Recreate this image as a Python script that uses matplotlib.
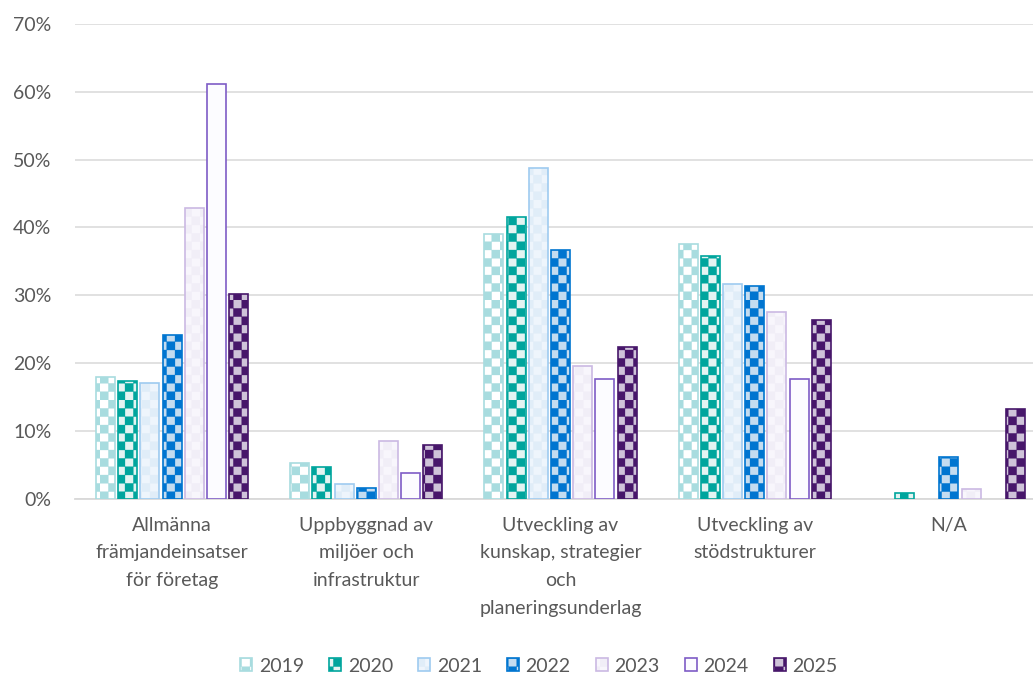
import numpy as np
import matplotlib
matplotlib.use("Agg")
import matplotlib.pyplot as plt
import matplotlib.hatch as mhatch
from matplotlib.path import Path

plt.rcParams['font.family'] = ['Lato', 'DejaVu Sans']
plt.rcParams['hatch.linewidth'] = 0.2

# categories and values (share of projects per year)
categories = ["Allmänna\nfrämjandeinsatser\nför företag",
              "Uppbyggnad av\nmiljöer och\ninfrastruktur",
              "Utveckling av\nkunskap, strategier\noch\nplaneringsunderlag",
              "Utveckling av\nstödstrukturer",
              "N/A"]
years = ["2019", "2020", "2021", "2022", "2023", "2024", "2025"]
v2019 = [0.179, 0.052, 0.390, 0.376, np.nan]
v2020 = [0.173, 0.046, 0.415, 0.358, 0.008]
v2021 = [0.170, 0.022, 0.488, 0.316, np.nan]
v2022 = [0.241, 0.016, 0.367, 0.313, 0.061]
v2023 = [0.429, 0.085, 0.196, 0.275, 0.014]
v2024 = [0.612, 0.037, 0.176, 0.176, np.nan]
v2025 = [0.302, 0.079, 0.223, 0.264, 0.132]
series = [v2019, v2020, v2021, v2022, v2023, v2024, v2025]

# (face, hatch colour, edge colour, hatch)
styles = [
    ("#FFFFFF", "#A8DCDF", "#A8DCDF", "c"),
    ("#E4F4F2", "#00A59D", "#00A59D", "c"),
    ("#EEF5FC", "#E0EDF8", "#9ECBF0", "c"),
    ("#C4DCF0", "#0075D0", "#0075D0", "c"),
    ("#F8F6FC", "#F1EEF7", "#CBB9E3", "c"),
    ("#FCFCFF", "#FCFCFF", "#7E5CC6", None),
    ("#CFC3D9", "#47166A", "#47166A", "c"),
]


class CheckerHatch(mhatch.HatchPatternBase):
    # checkerboard fill, 'c' in the hatch string
    filled = True

    def __init__(self, hatch, density):
        self.cells = 12 if 'c' in hatch else 0
        self.num_vertices = (self.cells * self.cells // 2) * 5

    def set_vertices_and_codes(self, vertices, codes):
        s = 1.0 / self.cells
        k = 0
        for i in range(self.cells):
            for j in range(self.cells):
                if (i + j) % 2:
                    continue
                vertices[k:k + 5] = [[i * s, j * s], [(i + 1) * s, j * s],
                                     [(i + 1) * s, (j + 1) * s], [i * s, (j + 1) * s],
                                     [i * s, j * s]]
                codes[k:k + 5] = [Path.MOVETO, Path.LINETO, Path.LINETO,
                                  Path.LINETO, Path.CLOSEPOLY]
                k += 5


mhatch._hatch_types.append(CheckerHatch)
import warnings
warnings.filterwarnings("ignore")

fig = plt.figure(figsize=(10.33, 6.77), dpi=100)
ax = fig.add_axes([75 / 1033, 178.5 / 677, 971 / 1033, 474.5 / 677])

x = np.arange(len(categories))
step = 0.8 / len(years)
handles = []
for i, (vals, st) in enumerate(zip(series, styles)):
    face, hcol, ecol, hatch = st
    pos = x - 0.4 + step * (i + 0.5)
    b1 = ax.bar(pos, vals, width=step * 0.86, color=face, edgecolor=hcol,
                linewidth=0, hatch=hatch, zorder=3)
    b2 = ax.bar(pos, vals, width=step * 0.86, facecolor='none', edgecolor=ecol,
                linewidth=1.2, zorder=4)
    handles.append((b1[0], b2[0]))

ax.set_xlim(-0.5, 4.5)
ax.set_ylim(0, 0.7)
ax.set_yticks(np.arange(0, 0.71, 0.1))
ax.set_yticklabels([f"{int(round(t * 100))}%" for t in np.arange(0, 0.71, 0.1)])
ax.set_xticks(x)
ax.set_xticklabels(categories, linespacing=1.78)
ax.tick_params(axis='y', length=0, pad=17, labelsize=14, labelcolor="#595959")
ax.tick_params(axis='x', length=0, pad=13, labelsize=14, labelcolor="#595959")
ax.grid(axis='y', color="#D9D9D9", linewidth=1.1, zorder=0)
ax.set_axisbelow(True)
for s in ['top', 'right', 'left']:
    ax.spines[s].set_visible(False)
ax.spines['bottom'].set_color("#D9D9D9")
ax.spines['bottom'].set_linewidth(1.3)

fig.legend(handles, years, loc='center', bbox_to_anchor=(539 / 1033, 11 / 677),
           ncol=7, frameon=False, fontsize=14, labelcolor="#595959",
           handlelength=0.6, handleheight=0.6, handletextpad=0.35,
           columnspacing=1.3)

fig.savefig("out.png", dpi=100)
